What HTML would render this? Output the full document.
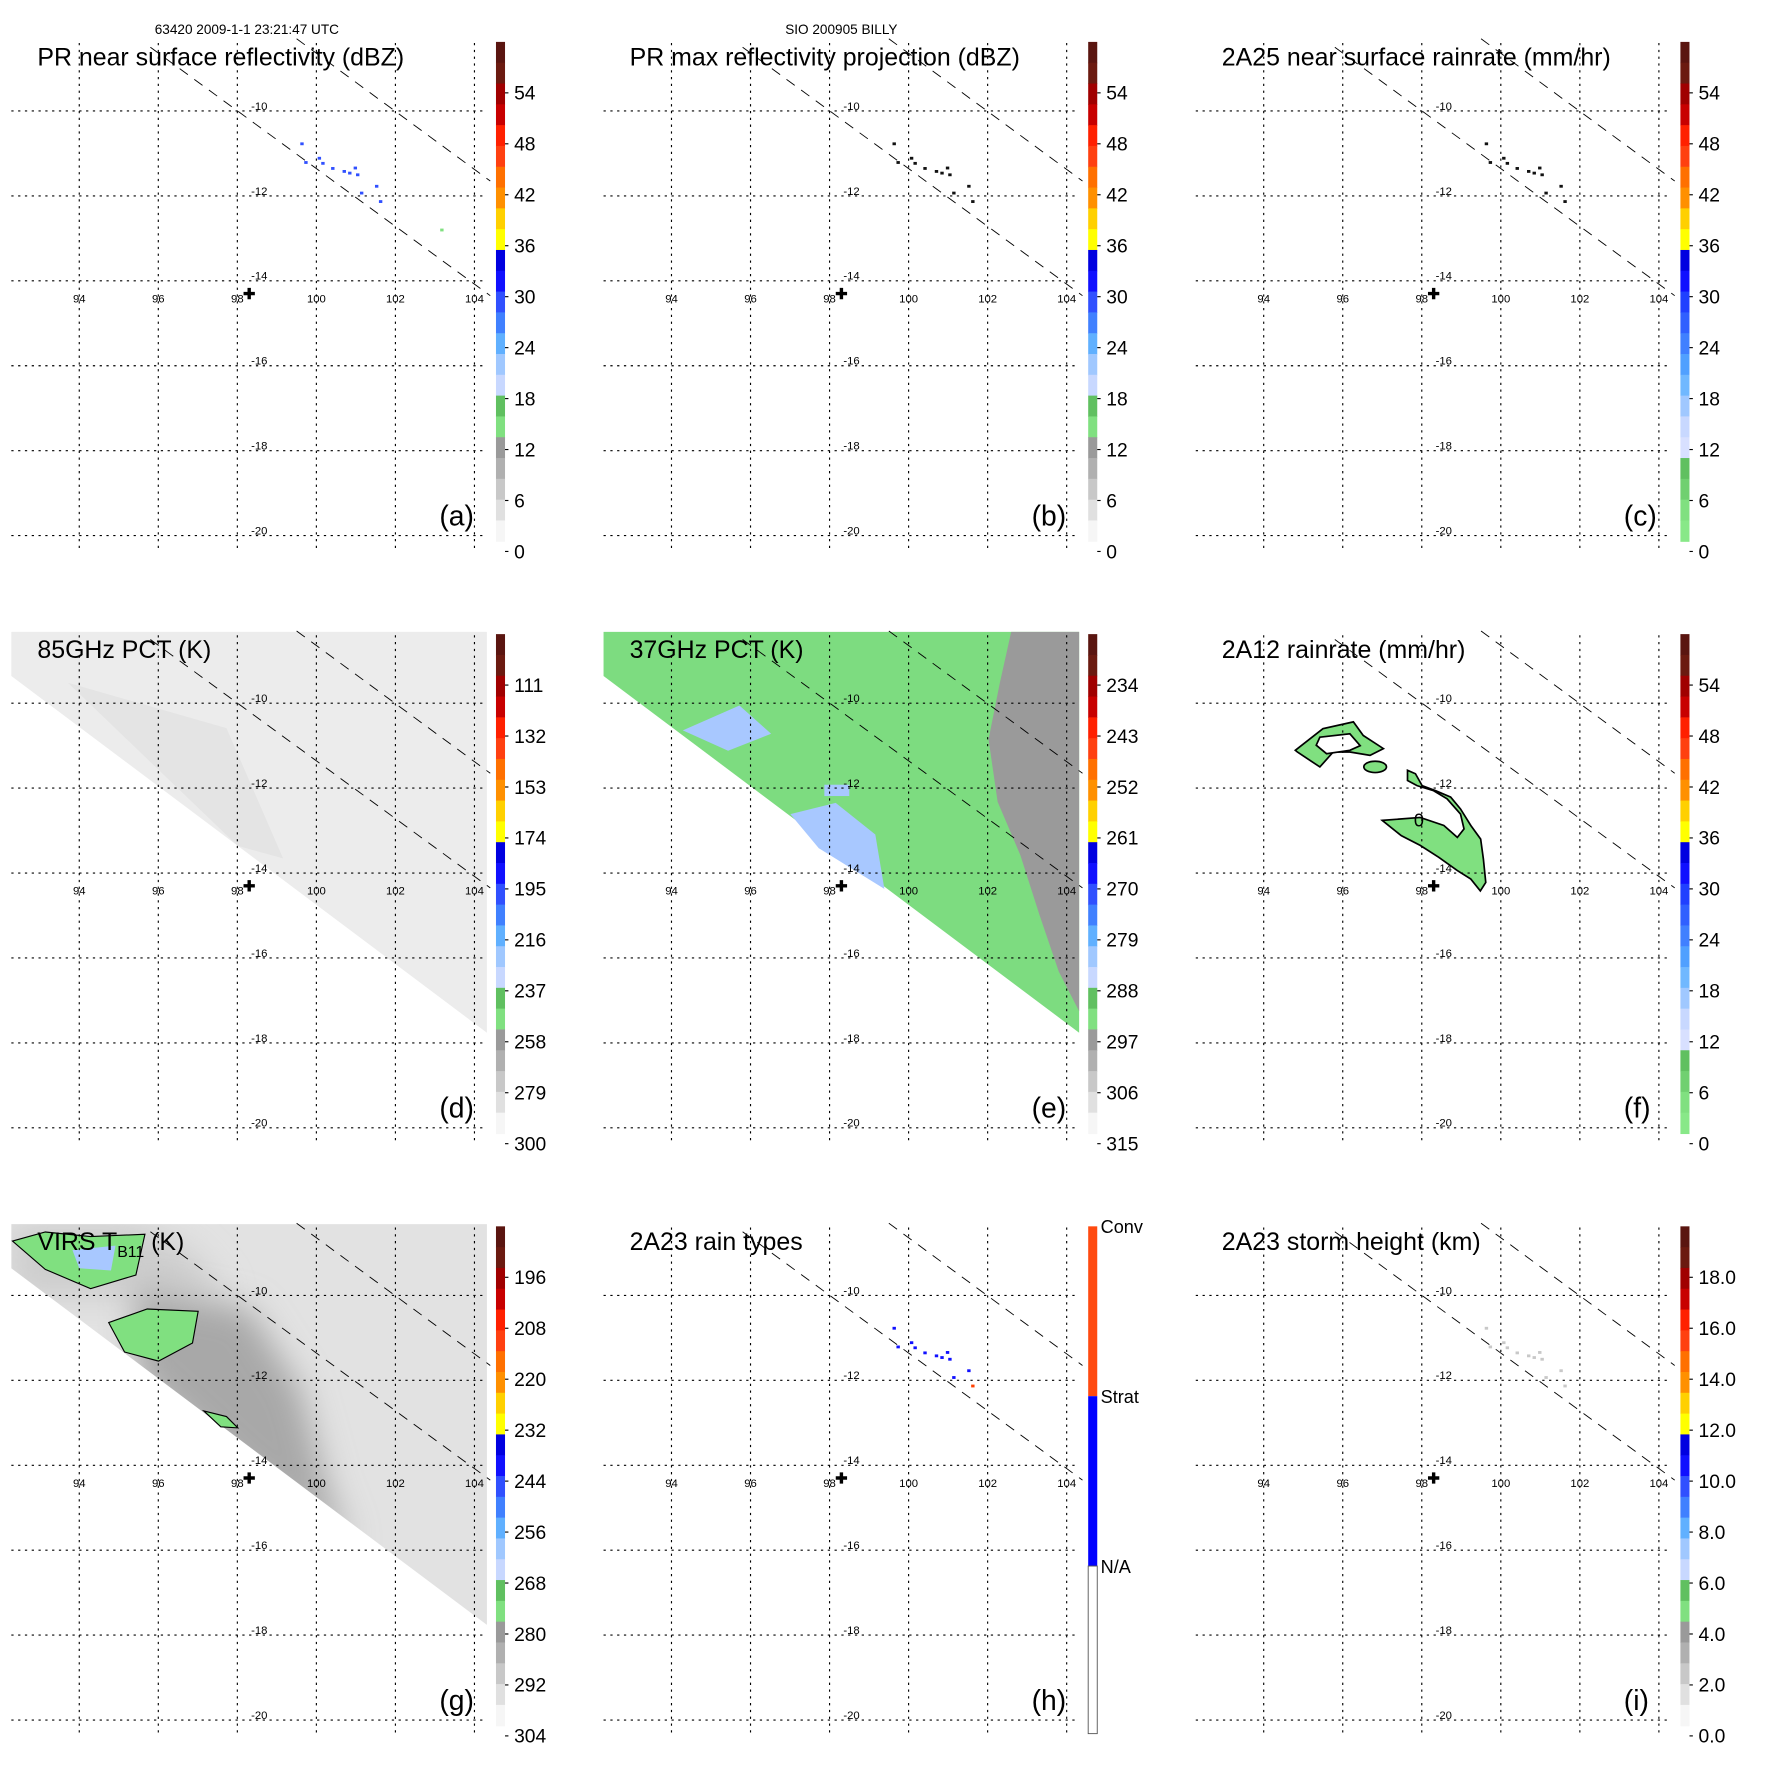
<!DOCTYPE html>
<html><head><meta charset="utf-8">
<style>
html,body{margin:0;padding:0;background:#fff;}
svg{display:block;font-family:"Liberation Sans",sans-serif;}
</style></head>
<body>
<svg id="fig" width="1771" height="1771" viewBox="0 0 1564 1564" xmlns="http://www.w3.org/2000/svg">
<defs><filter id="blur8" x="-50%" y="-50%" width="200%" height="200%"><feGaussianBlur stdDeviation="14"/></filter>
<clipPath id="virsclip"><polygon points="10,1081 430,1081 430,1435 10,1120"/></clipPath></defs>
<text x="218" y="30" font-size="12" text-anchor="middle">63420 2009-1-1 23:21:47 UTC</text>
<text x="743" y="30" font-size="12" text-anchor="middle">SIO 200905 BILLY</text>
</svg>
<script>
// ---- data ----
const lonTicks = [94, 96, 98, 100, 102, 104];
const latTicks = [-10, -12, -14, -16, -18, -20];
const speckLon = [99.65, 99.75, 100.09, 100.18, 100.43, 100.72, 100.86, 101.0, 101.06, 101.16, 101.54, 101.64, 103.19];
const speckLat = [-10.78, -11.22, -11.12, -11.24, -11.36, -11.43, -11.47, -11.35, -11.51, -11.94, -11.78, -12.14, -12.81];
const rainTypeConv = [0,0,0,0,0,0,0,0,0,0,0,1,0];
const swathLeftLon = [95.8, 104.4]; const swathLeftLat = [-8.5, -14.35];
const swathRightLon = [99.5, 104.4]; const swathRightLat = [-8.3, -11.65];
const crossLon = 98.3, crossLat = -14.3;
const blobMainLon = [97.0,97.96,98.56,98.90,99.07,98.98,98.64,98.30,97.88,97.64,97.64,97.84,98.01,98.35,98.73,98.98,99.24,99.49,99.56,99.62,99.48,99.24,98.90,98.43,97.96,97.48];
const blobMainLat = [-12.76,-12.69,-12.88,-13.16,-12.96,-12.61,-12.25,-12.06,-11.94,-11.82,-11.58,-11.66,-11.94,-12.06,-12.21,-12.49,-12.88,-13.20,-13.67,-14.22,-14.42,-14.14,-13.94,-13.63,-13.35,-13.12];
const blobUpLon = [94.8,95.50,96.27,96.52,97.03,96.69,96.18,95.76,95.42,94.85];
const blobUpLat = [-11.11,-10.60,-10.44,-10.76,-11.07,-11.23,-11.15,-11.15,-11.50,-11.15];
const holeLon = [95.42,96.18,96.44,96.18,95.59,95.33];
const holeLat = [-10.80,-10.72,-11.0,-11.11,-11.19,-10.99];
const ticksA = ["54","48","42","36","30","24","18","12","6","0"];
const ticksD = ["111","132","153","174","195","216","237","258","279","300"];
const ticksE = ["234","243","252","261","270","279","288","297","306","315"];
const ticksG = ["196","208","220","232","244","256","268","280","292","304"];
const ticksI = ["18.0","16.0","14.0","12.0","10.0","8.0","6.0","4.0","2.0","0.0"];
const palA = ["#5a1510","#6b1a10","#a00000","#c80000","#ff2000","#ff4010","#ff7000","#ff9000","#ffd000","#ffff00","#0000e0","#1010ff","#3050ff","#4080ff","#60b0ff","#a0c8ff","#c8d8ff","#60c060","#80e080","#9a9a9a","#b0b0b0","#c8c8c8","#e0e0e0","#f6f6f6"];
const palC = ["#5a1510","#6b1a10","#a00000","#c80000","#ff2000","#ff4010","#ff7000","#ff9000","#ffd000","#ffff00","#0000e0","#1010ff","#2040ff","#3060ff","#4080ff","#50a0ff","#70b8ff","#a0c8ff","#c8d8ff","#d8e0ff","#60c060","#70d070","#80e080","#88e888"];

const NS = "http://www.w3.org/2000/svg";
const svg = document.getElementById('fig');
function mk(tag, attrs, parent){ const e=document.createElementNS(NS,tag); for(const k in attrs) e.setAttribute(k,attrs[k]); (parent||svg).appendChild(e); return e; }
function xs(ox, lon){ return ox + 70 + (lon-94)*34.9; }
function ys(oy, lat){ return oy + 98 + (-10-lat)*37.5; }

const panels = [
 {id:'a',ox:0,oy:0,title:'PR near surface reflectivity (dBZ)',pal:palA,ticks:ticksA,kind:'specks',col:'#3050ff'},
 {id:'b',ox:523,oy:0,title:'PR max reflectivity projection (dBZ)',pal:palA,ticks:ticksA,kind:'specks',col:'#111'},
 {id:'c',ox:1046,oy:0,title:'2A25 near surface rainrate (mm/hr)',pal:palC,ticks:ticksA,kind:'specks',col:'#111'},
 {id:'d',ox:0,oy:523,title:'85GHz PCT (K)',pal:palA,ticks:ticksD,kind:'pct85'},
 {id:'e',ox:523,oy:523,title:'37GHz PCT (K)',pal:palA,ticks:ticksE,kind:'pct37'},
 {id:'f',ox:1046,oy:523,title:'2A12 rainrate (mm/hr)',pal:palC,ticks:ticksA,kind:'blob'},
 {id:'g',ox:0,oy:1046,title:'VIRS',pal:palA,ticks:ticksG,kind:'virs'},
 {id:'h',ox:523,oy:1046,title:'2A23 rain types',pal:null,ticks:null,kind:'types'},
 {id:'i',ox:1046,oy:1046,title:'2A23 storm height (km)',pal:palA,ticks:ticksI,kind:'specks',col:'#c8c8c8'}
];

function poly(ox,oy,lons,lats){ return lons.map((l,i)=>xs(ox,l).toFixed(1)+','+ys(oy,lats[i]).toFixed(1)).join(' '); }

panels.forEach(p=>{
  const g = mk('g',{});
  
  
  const ox=p.ox, oy=p.oy;
  const swath = `${ox+10},${oy+35} ${ox+430},${oy+35} ${ox+430},${oy+389} ${ox+10},${oy+74}`;
  if(p.kind==='pct85'){
    const s=mk('polygon',{points:swath,fill:'#ececec'},g);
     
    mk('polygon',{points:`${ox+60},${oy+80} ${ox+200},${oy+120} ${ox+250},${oy+235} ${ox+210},${oy+224}`,fill:'#e4e4e4'},g);
  }
  if(p.kind==='pct37'){
    const s=mk('polygon',{points:swath,fill:'#7ddc80'},g);
     
    const gr=mk('polygon',{points:`${ox+370},${oy+35} ${ox+430},${oy+35} ${ox+430},${oy+370} ${ox+412},${oy+335} ${ox+395},${oy+285} ${ox+378},${oy+232} ${ox+358},${oy+185} ${ox+350},${oy+130} ${ox+360},${oy+80}`,fill:'#9a9a9a'},g);
     
    mk('polygon',{points:`${ox+175},${oy+196} ${ox+215},${oy+186} ${ox+250},${oy+214} ${ox+258},${oy+262} ${ox+200},${oy+226}`,fill:'#a8c8ff'},g);
    mk('polygon',{points:`${ox+80},${oy+122} ${ox+130},${oy+100} ${ox+158},${oy+125} ${ox+120},${oy+140}`,fill:'#a8c8ff'},g);
    mk('rect',{x:ox+205,y:oy+170,width:22,height:10,fill:'#a8c8ff'},g);
  }
  if(p.kind==='virs'){
    const s=mk('polygon',{points:swath,fill:'#e2e2e2'},g);
     
    const cg=mk('g',{'clip-path':'url(#virsclip)'},g);
    mk('polygon',{points:`${ox+10},${oy+35} ${ox+120},${oy+35} ${ox+170},${oy+60} ${ox+200},${oy+100} ${ox+10},${oy+100}`,fill:'#cdcdcd',filter:'url(#blur8)'},cg);
    mk('polygon',{points:`${ox+120},${oy+90} ${ox+220},${oy+110} ${ox+265},${oy+180} ${ox+290},${oy+270} ${ox+310},${oy+320} ${ox+220},${oy+260} ${ox+120},${oy+170}`,fill:'#a8a8a8',filter:'url(#blur8)'},cg);
    mk('polygon',{points:`${ox+11},${oy+50} ${ox+40},${oy+42} ${ox+80},${oy+46} ${ox+128},${oy+44} ${ox+120},${oy+80} ${ox+80},${oy+92} ${ox+40},${oy+75}`,fill:'#80e080',stroke:'#000','stroke-width':1},g);
    mk('polygon',{points:`${ox+64},${oy+58} ${ox+102},${oy+54} ${ox+98},${oy+76} ${ox+70},${oy+74}`,fill:'#a8c8ff'},g);
    mk('polygon',{points:`${ox+96},${oy+122} ${ox+130},${oy+110} ${ox+175},${oy+112} ${ox+170},${oy+140} ${ox+140},${oy+156} ${ox+110},${oy+148}`,fill:'#80e080',stroke:'#000','stroke-width':1},g);
    mk('polygon',{points:`${ox+180},${oy+200} ${ox+200},${oy+205} ${ox+210},${oy+215} ${ox+195},${oy+214}`,fill:'#80e080',stroke:'#000','stroke-width':1},g);
  }
  if(p.kind==='blob'){
    const b=mk('polygon',{points:poly(ox,oy,blobMainLon,blobMainLat),fill:'#80e080',stroke:'#000','stroke-width':1.5},g);
     
    const u=mk('polygon',{points:poly(ox,oy,blobUpLon,blobUpLat),fill:'#80e080',stroke:'#000','stroke-width':1.5},g);
     
    mk('polygon',{points:poly(ox,oy,holeLon,holeLat),fill:'#fff',stroke:'#000','stroke-width':1.5},g);
    mk('ellipse',{cx:xs(ox,96.82),cy:ys(oy,-11.5),rx:10,ry:5,fill:'#80e080',stroke:'#000','stroke-width':1.5},g);
    const t=mk('text',{x:xs(ox,97.8),y:ys(oy,-12.9),'font-size':16},g); t.textContent='0';
  }
  if(p.kind==='specks'||p.kind==='types'){
    speckLon.forEach((lo,i)=>{
      if(i===12 && p.id!=='a') return;
      let c=p.col;
      if(p.kind==='types') c = rainTypeConv[i] ? '#ff4000' : '#1010ff';
      if(p.id==='a' && i===12) c='#80e080';
      const r=mk('rect',{x:xs(ox,lo)-2,y:ys(oy,speckLat[i])-1.5,width:3,height:2.5,fill:c},g);
      
      
    });
  }
  // grid
  lonTicks.forEach(l=>{
    mk('line',{x1:xs(ox,l),x2:xs(ox,l),y1:oy+38,y2:oy+486,stroke:'#000','stroke-width':1,'stroke-dasharray':'2,4'},g);
    const t=mk('text',{x:xs(ox,l),y:oy+267,'font-size':10,'text-anchor':'middle'},g); t.textContent=l;
     
  });
  latTicks.forEach(l=>{
    mk('line',{x1:ox+10,x2:ox+430,y1:ys(oy,l),y2:ys(oy,l),stroke:'#000','stroke-width':1,'stroke-dasharray':'2,4'},g);
    const t=mk('text',{x:ox+229,y:ys(oy,l)-1,'font-size':10,'text-anchor':'middle'},g); t.textContent=l;
     
  });
  // swath edges
  mk('line',{x1:xs(ox,swathLeftLon[0]),y1:ys(oy,swathLeftLat[0]),x2:xs(ox,swathLeftLon[1]),y2:ys(oy,swathLeftLat[1]),stroke:'#000','stroke-width':0.8,'stroke-dasharray':'9,7'},g);
  mk('line',{x1:xs(ox,swathRightLon[0]),y1:ys(oy,swathRightLat[0]),x2:xs(ox,swathRightLon[1]),y2:ys(oy,swathRightLat[1]),stroke:'#000','stroke-width':0.8,'stroke-dasharray':'9,7'},g);
  // storm cross
  const cx=xs(ox,crossLon), cy=ys(oy,crossLat);
  const cr=mk('path',{d:`M${cx-5},${cy}H${cx+5}M${cx},${cy-5}V${cy+5}`,stroke:'#000','stroke-width':3},g);
   
  // title
  const tt=mk('text',{x:ox+33,y:oy+58,'font-size':22},g);
  if(p.kind==='virs'){
    tt.textContent='VIRS T';
    const sub=mk('tspan',{'font-size':14,dy:6},tt); sub.textContent='B11';
    const r=mk('tspan',{dy:-6},tt); r.textContent=' (K)';
  } else tt.textContent=p.title;
   
  const lt=mk('text',{x:ox+388,y:oy+464,'font-size':25},g); lt.textContent='('+p.id+')';
   
  // colorbar
  const cb=mk('g',{},g);
   
  if(p.pal){
    const h=441/p.pal.length;
    p.pal.forEach((c,i)=>mk('rect',{x:ox+438,y:oy+37+i*h,width:8,height:h+0.5,fill:c},cb));
    p.ticks.forEach((t,i)=>{
      const yy=oy+82+i*45;
      mk('line',{x1:ox+446,x2:ox+449,y1:yy,y2:yy,stroke:'#000','stroke-width':1},cb);
      const tx=mk('text',{x:ox+454,y:yy+6,'font-size':17},cb); tx.textContent=t;
       
    });
  } else {
    mk('rect',{x:ox+438,y:oy+37,width:8,height:150,fill:'#ff4a10'},cb);
    mk('rect',{x:ox+438,y:oy+187,width:8,height:150,fill:'#0000ff'},cb);
    mk('rect',{x:ox+438,y:oy+337,width:8,height:148,fill:'#fff',stroke:'#555','stroke-width':0.8},cb);
    [['Conv',37],['Strat',187],['N/A',337]].forEach(a=>{
      const tx=mk('text',{x:ox+449,y:oy+a[1]+6,'font-size':16},cb); tx.textContent=a[0];
       
    });
  }
});
</script>
</body></html>
